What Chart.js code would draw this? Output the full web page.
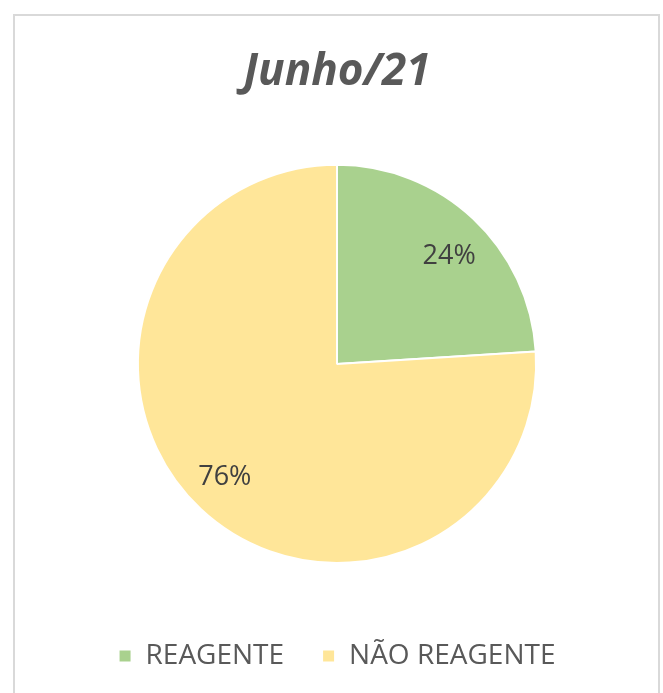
<!DOCTYPE html>
<html><head><meta charset="utf-8">
<script src="https://cdn.jsdelivr.net/npm/chart.js@4/dist/chart.umd.min.js"></script>
<style>html,body{margin:0;padding:0;background:#fff;}#wrap{position:relative;width:663px;height:693px;}</style>
</head><body><div id="wrap"><canvas id="c" width="663" height="693"></canvas></div>
<script>
const chartTitle = "Junho/21";
const categories = ["REAGENTE", "NÃO REAGENTE"];
const values = [24, 76];
const percentLabels = ["24%", "76%"];
const colors = ["#A9D18E", "#FFE699"];

const frame = {
  id: 'frame',
  beforeDraw(chart) {
    const c = chart.ctx;
    c.save();
    c.fillStyle = '#fff';
    c.fillRect(0, 0, chart.width, chart.height);
    c.strokeStyle = '#d9d9d9';
    c.lineWidth = 2;
    c.strokeRect(14, 15, 645, 700);
    c.restore();
  }
};
const sliceLabels = {
  id: 'sliceLabels',
  afterDatasetsDraw(chart) {
    const c = chart.ctx;
    const meta = chart.getDatasetMeta(0);
    c.save();
    c.font = '27px "Open Sans"';
    c.fillStyle = '#404040';
    c.textAlign = 'center';
    c.textBaseline = 'middle';
    meta.data.forEach((arc, i) => {
      const p = arc.getProps(['x','y','startAngle','endAngle','outerRadius'], true);
      const mid = (p.startAngle + p.endAngle) / 2 + 0.04;
      const r = p.outerRadius * 0.79;
      c.fillText(percentLabels[i], p.x + Math.cos(mid) * r, p.y + Math.sin(mid) * r + 3);
    });
    c.restore();
  }
};

new Chart(document.getElementById('c'), {
  type: 'pie',
  data: {
    labels: categories,
    datasets: [{ data: values, backgroundColor: colors, borderColor: '#fff', borderWidth: 2 }]
  },
  options: {
    responsive: false,
    animation: false,
    layout: { padding: { left: 22, right: 11, top: 0, bottom: 13 } },
    plugins: {
      title: {
        display: true,
        text: chartTitle,
        color: '#595959',
        font: { family: '"Open Sans"', size: 44, weight: 'bold', style: 'italic', lineHeight: 1.2 },
        padding: { top: 46, bottom: 65 }
      },
      legend: {
        position: 'bottom',
        title: { display: true, text: ' ', font: { size: 10, lineHeight: 1 }, padding: 15 },
        labels: {
          color: '#595959',
          font: { family: '"Open Sans"', size: 28 },
          boxWidth: 13, boxHeight: 13, padding: 38
        }
      },
      tooltip: { enabled: false }
    }
  },
  plugins: [frame, sliceLabels]
});
</script></body></html>
